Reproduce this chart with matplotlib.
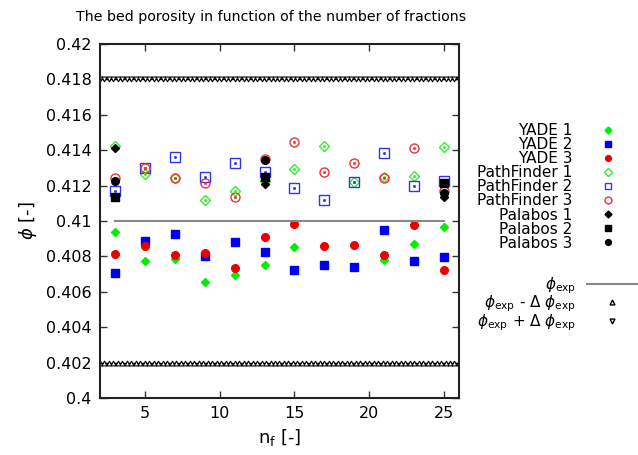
import numpy as np
import matplotlib
matplotlib.use("Agg")
import matplotlib.pyplot as plt
from matplotlib.lines import Line2D

plt.rcParams['font.family'] = ['DejaVu Sans']
plt.rcParams['mathtext.fontset'] = 'dejavusans'

# data
nf = [3, 5, 7, 9, 11, 13, 15, 17, 19, 21, 23, 25]
yade1 = [0.40938, 0.40775, 0.40788, 0.40653, 0.40694, 0.40750, 0.40854, 0.40860, 0.40865, 0.40777, 0.40869, 0.40968]
yade2 = [0.40707, 0.40887, 0.40925, 0.40803, 0.40882, 0.40825, 0.40724, 0.40750, 0.40741, 0.40949, 0.40775, 0.40797]
yade3 = [0.40812, 0.40857, 0.40808, 0.40820, 0.40734, 0.40910, 0.40983, 0.40861, 0.40867, 0.40808, 0.40976, 0.40722]
pf1 = [0.41423, 0.41263, 0.41242, 0.41121, 0.41167, 0.41225, 0.41291, 0.41423, 0.41220, 0.41250, 0.41257, 0.41419]
pf2 = [0.41169, 0.41301, 0.41363, 0.41250, 0.41327, 0.41274, 0.41184, 0.41117, 0.41222, 0.41385, 0.41195, 0.41225]
pf3 = [0.41244, 0.41301, 0.41242, 0.41216, 0.41137, 0.41351, 0.41445, 0.41278, 0.41325, 0.41245, 0.41413, 0.41171]
pal_nf = [3, 13, 25]
pal1 = [0.41411, 0.41207, 0.41137]
pal2 = [0.41135, 0.41248, 0.41212]
pal3 = [0.41228, 0.41346, 0.41160]
phi_exp = 0.41
dphi_exp = 0.008
band_x = np.arange(2.0, 26.001, 0.3)

fig = plt.figure(figsize=(6.38, 4.55), dpi=100)
ax = fig.add_axes([0.1567, 0.1253, 0.5627, 0.778])

green = '#00ee00'
blue = '#0000ee'
red = '#ee0000'
lgreen = '#33ee33'
lblue = '#3333ee'
lred = '#ee3333'

ax.plot(nf, yade1, ls='none', marker='D', ms=4, color=green)
ax.plot(nf, yade2, ls='none', marker='s', ms=5.5, color=blue)
ax.plot(nf, yade3, ls='none', marker='o', ms=5.5, color=red)
ax.plot(nf, pf1, ls='none', marker='D', ms=5, mfc='none', mec=lgreen, mew=1)
ax.plot(nf, pf2, ls='none', marker='s', ms=6.5, mfc='none', mec=lblue, mew=1)
ax.plot(nf, pf3, ls='none', marker='o', ms=6.5, mfc='none', mec=lred, mew=1)
for d, c in ((pf1, lgreen), (pf2, lblue), (pf3, lred)):
    ax.plot(nf, d, ls='none', marker='s', ms=1, color=c)
ax.plot(pal_nf, pal1, ls='none', marker='D', ms=4, color='black')
ax.plot(pal_nf, pal2, ls='none', marker='s', ms=5.5, color='black')
ax.plot(pal_nf, pal3, ls='none', marker='o', ms=5.5, color='black')
ax.plot([nf[0], nf[-1]], [phi_exp, phi_exp], color='#888888', lw=1.5)
ax.plot(band_x, [phi_exp - dphi_exp] * len(band_x), color='black', lw=1, marker='^', ms=3.5,
        mfc='white', mec='black', mew=0.8)
ax.plot(band_x, [phi_exp + dphi_exp] * len(band_x), color='black', lw=1, marker='v', ms=3.5,
        mfc='white', mec='black', mew=0.8)

ax.set_xlim(2, 26)
ax.set_ylim(0.4, 0.42)
ax.set_xticks([5, 10, 15, 20, 25])
yt = [0.4, 0.402, 0.404, 0.406, 0.408, 0.41, 0.412, 0.414, 0.416, 0.418, 0.42]
ax.set_yticks(yt)
ax.set_yticklabels(['0.4', '0.402', '0.404', '0.406', '0.408', '0.41', '0.412', '0.414', '0.416', '0.418', '0.42'])
ax.tick_params(direction='in', top=True, right=True, length=5, width=1, labelsize=11.5, color='#333333', pad=6)
for s in ax.spines.values():
    s.set_linewidth(1.5)
    s.set_color('#222222')

ax.set_xlabel(r'n$_{\rm f}$ [-]', fontsize=13, labelpad=4)
ax.set_ylabel(r'$\phi$ [-]', fontsize=13, labelpad=5)
fig.text(0.119, 0.962, 'The bed porosity in function of the number of fractions', fontsize=10.2, va='center')

def mk(marker, c, filled=True, ms=4):
    if filled:
        return Line2D([], [], ls='none', marker=marker, ms=ms, color=c)
    return Line2D([], [], ls='none', marker=marker, ms=ms, mfc='none', mec=c, mew=1)

handles1 = [
    mk('D', green, ms=3.5), mk('s', blue), mk('o', red, ms=4.2),
    mk('D', lgreen, False, 4), mk('s', lblue, False, 5), mk('o', lred, False, 5),
    mk('D', 'black', ms=3.5), mk('s', 'black'), mk('o', 'black', ms=4.2),
]
labels1 = ['YADE 1', 'YADE 2', 'YADE 3', 'PathFinder 1', 'PathFinder 2', 'PathFinder 3',
           'Palabos 1', 'Palabos 2', 'Palabos 3']
handles2 = [
    Line2D([], [], color='#888888', lw=1.5),
    mk('^', 'black', False, 3.5), mk('v', 'black', False, 3.5),
]
labels2 = [r'$\phi_{\rm exp}$',
           r'$\phi_{\rm exp}$ - $\Delta$ $\phi_{\rm exp}$', r'$\phi_{\rm exp}$ + $\Delta$ $\phi_{\rm exp}$']

common = dict(loc='upper left', frameon=False, markerfirst=False, fontsize=11, handlelength=3.3,
              handletextpad=0.7, borderaxespad=0)
leg1 = ax.legend(handles1, labels1, bbox_to_anchor=(1.033, 0.794), labelspacing=-0.06, **common)
for t in leg1.get_texts():
    t.set_ha('right')
leg1._legend_box.align = 'right'
ax.add_artist(leg1)
leg2 = ax.legend(handles2, labels2, bbox_to_anchor=(1.033, 0.364), labelspacing=-0.13, **common)
for t in leg2.get_texts():
    t.set_ha('right')
leg2._legend_box.align = 'right'

fig.savefig('out.png', dpi=100)
